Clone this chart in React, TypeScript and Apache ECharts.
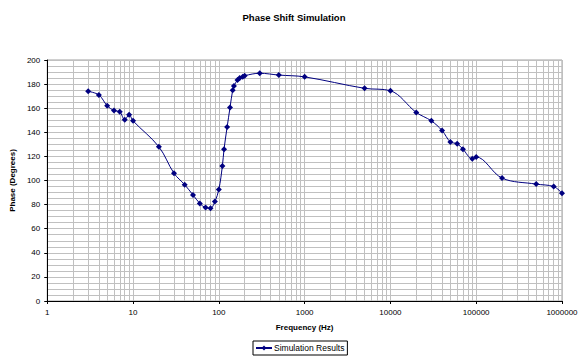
import React, { useEffect, useRef } from "react";
import * as echarts from "echarts";

const titleText = "Phase Shift Simulation";
const seriesName = "Simulation Results";
const xAxisName = "Frequency (Hz)";
const yAxisName = "Phase (Degrees)";

const frequencies = [
  3, 4, 5, 6, 7, 8, 9, 10, 20, 30, 40, 50, 60, 70, 80, 90, 100, 110, 115, 125,
  135, 145, 150, 165, 175, 190, 200, 300, 500, 1000, 5000, 10000, 20000, 30000,
  40000, 50000, 60000, 70000, 90000, 100000, 200000, 500000, 800000, 1000000,
];
const phases = [
  174, 171, 162, 158, 157, 150.5, 154.5, 149.5, 128, 106, 96.5, 88, 81, 77.5,
  77, 82.5, 92.5, 112, 126, 144.5, 160.5, 175, 178.5, 183.5, 185, 186, 187,
  189, 187.5, 186, 176.5, 174.5, 156.5, 149.5, 141.5, 132, 130.5, 126, 118,
  119.5, 102, 97, 95, 89.5,
];

const decades = [1, 10, 100, 1000, 10000, 100000];
const minorMultipliers = [2, 3, 4, 5, 6, 7, 8, 9];

const FONT = "'Liberation Sans', Arial, sans-serif";

export default function App() {
  const ref = useRef<HTMLDivElement>(null);
  useEffect(() => {
    if (!ref.current) return;
    const chart = echarts.init(ref.current, null, { renderer: "svg" });
    const minorLines: any[] = [];
    decades.forEach((d) =>
      minorMultipliers.forEach((m) => minorLines.push({ xAxis: m * d }))
    );
    chart.setOption({
      animation: false,
      backgroundColor: "#ffffff",
      textStyle: { fontFamily: FONT },
      title: {
        text: titleText,
        left: "center",
        top: 12,
        padding: 0,
        textStyle: { fontSize: 9.5, fontWeight: "bold", color: "#000", fontFamily: FONT },
      },
      grid: {
        left: 45,
        right: 26,
        top: 60,
        bottom: 59,
        show: true,
        borderColor: "#a0a0a0",
        borderWidth: 1,
        backgroundColor: "#ffffff",
      },
      legend: {
        data: [seriesName],
        left: 253,
        top: 341,
        orient: "horizontal",
        borderColor: "#000",
        borderWidth: 1,
        borderRadius: 0,
        padding: [2, 3, 2, 2],
        itemWidth: 16,
        itemHeight: 6,
        itemGap: 2,
        textStyle: { fontSize: 8.5, lineHeight: 10, color: "#000", fontFamily: FONT, padding: [0, 0, 0, -3] },
      },
      xAxis: {
        type: "log",
        logBase: 10,
        min: 1,
        max: 1000000,
        name: xAxisName,
        nameLocation: "middle",
        nameGap: 22,
        nameTextStyle: { fontSize: 8, fontWeight: "bold", color: "#000", fontFamily: FONT },
        axisLine: { show: true, onZero: false, lineStyle: { color: "#000", width: 1 } },
        axisTick: { show: true, length: 3, lineStyle: { color: "#000" } },
        axisLabel: {
          fontSize: 8,
          color: "#000",
          margin: 7,
          fontFamily: FONT,
          formatter: (v: number) => String(Math.round(v)),
        },
        splitLine: { show: true, lineStyle: { color: "#c0c0c0", width: 1 } },
        minorTick: { show: false },
        minorSplitLine: { show: false },
      },
      yAxis: {
        type: "value",
        min: 0,
        max: 200,
        interval: 20,
        name: yAxisName,
        nameLocation: "middle",
        nameGap: 28,
        nameTextStyle: { fontSize: 8, fontWeight: "bold", color: "#000", fontFamily: FONT },
        axisLine: { show: true, lineStyle: { color: "#000", width: 1 } },
        axisTick: { show: true, length: 3, lineStyle: { color: "#000" } },
        axisLabel: { fontSize: 8, color: "#000", margin: 7, fontFamily: FONT },
        splitLine: { show: true, lineStyle: { color: "#c0c0c0", width: 1 } },
        minorTick: { show: false, splitNumber: 4 },
        minorSplitLine: { show: true, lineStyle: { color: "#c0c0c0", width: 1 } },
      },
      series: [
        {
          name: "grid",
          type: "line",
          data: [],
          silent: true,
          z: 1,
          markLine: {
            silent: true,
            symbol: ["none", "none"],
            label: { show: false },
            lineStyle: { color: "#c0c0c0", width: 1, type: "solid" },
            emphasis: { disabled: true },
            data: minorLines,
          },
        },
        {
          name: seriesName,
          type: "line",
          z: 5,
          data: frequencies.map((f, i) => [f, phases[i]]),
          smooth: 0.35,
          symbol: "diamond",
          symbolSize: 6,
          showSymbol: true,
          lineStyle: { color: "#000080", width: 1 },
          itemStyle: { color: "#000080" },
        },
      ],
    });
    return () => chart.dispose();
  }, []);
  return <div ref={ref} style={{ width: 588, height: 360, position: "absolute", left: 0, top: 0 }} />;
}
